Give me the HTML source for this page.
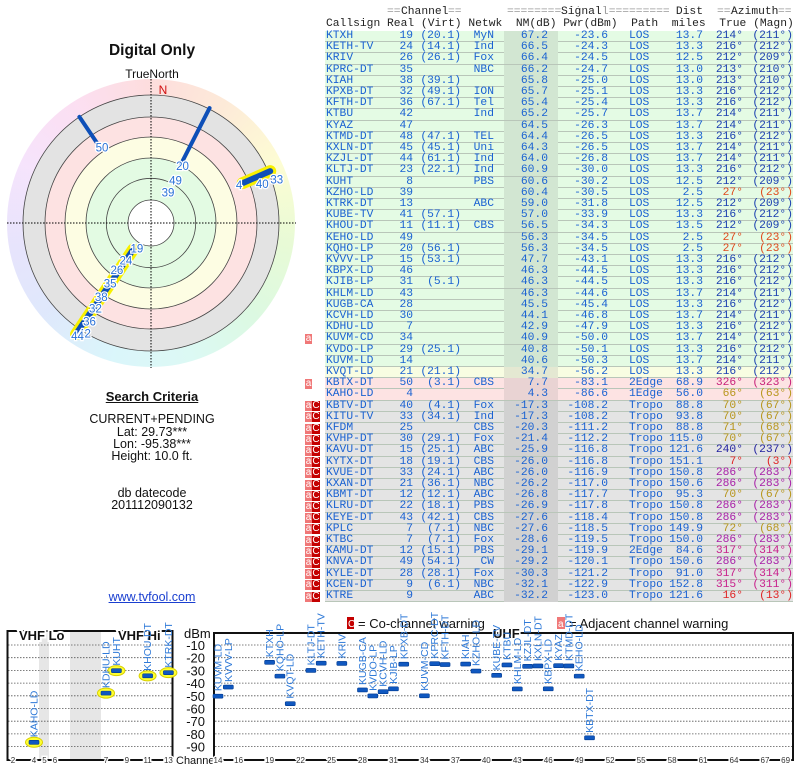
<!DOCTYPE html>
<html><head><meta charset="utf-8">
<style>
html,body{margin:0;padding:0;background:#fff;}
#page{position:relative;width:800px;height:768px;overflow:hidden;font-family:"Liberation Sans",sans-serif;}
.abs{position:absolute;white-space:pre;}
.mono{font-family:"Liberation Mono",monospace;font-size:11.3px;line-height:11.2px;}
.ctr{text-align:center;width:300px;left:2px;font-size:12.5px;color:#111;}
#ring{position:absolute;left:7px;top:79px;width:288px;height:288px;border-radius:50%;
background:conic-gradient(hsl(0,90%,93%),hsl(30,90%,92%),hsl(60,90%,91%),hsl(90,80%,91%),hsl(130,70%,92%),hsl(170,70%,92%),hsl(190,80%,92%),hsl(220,80%,93%),hsl(250,80%,94%),hsl(285,80%,94%),hsl(320,80%,93%),hsl(360,90%,93%));}
.row{position:absolute;left:325px;width:468px;height:11.2px;box-sizing:border-box;border-bottom:1px solid #b9c6b9;}
.cell{position:absolute;top:0;white-space:pre;color:#1a62d2;}
.hdr{color:#222;}
.eq{color:#999;}
</style></head>
<body>
<div id="page">

<div class="abs" style="left:0;width:304px;text-align:center;top:42px;font-size:15.5px;font-weight:bold;color:#111;">Digital Only</div>
<div class="abs" style="left:0;width:304px;text-align:center;top:67px;font-size:12px;color:#111;">TrueNorth</div>
<div id="ring"></div>
<svg id="polar" style="position:absolute;left:0;top:0" width="305" height="380"></svg>

<div class="abs" style="left:2px;width:300px;text-align:center;top:389px;font-size:13px;font-weight:bold;text-decoration:underline;color:#111;">Search Criteria</div>
<div class="abs ctr" style="top:412px;">CURRENT+PENDING</div>
<div class="abs ctr" style="top:425px;">Lat: 29.73***</div>
<div class="abs ctr" style="top:437px;">Lon: -95.38***</div>
<div class="abs ctr" style="top:449px;">Height: 10.0 ft.</div>
<div class="abs ctr" style="top:486px;">db datecode</div>
<div class="abs ctr" style="top:498px;">201112090132</div>
<div class="abs ctr" style="top:590px;color:#1a3fd0;text-decoration:underline;">www.tvfool.com</div>

<div id="table"></div>

<svg id="spec" style="position:absolute;left:0;top:0" width="800" height="768"></svg>
</div>

<script>
// ---------- polar data ----------
const polarLineAz = [214, 27, 326, 66.5];
const polarLineR0 = [32, 65, 97, 100];
const polarLineR1 = [134, 129, 128, 130];
const polarLineHi = [true, false, false, true];
const polarLabels = ["19","24","26","35","38","32","36","42","44","39","49","20","50","4","40","33"];
const polarLabelAz = [209,214,216,214,214,213,212,211,213,29,30,29,327,66.6,70.6,71];
const polarLabelR = [29,45,58,73,89,102,116,129,135,35,49,65,90,96,118,133];

// ---------- spectrum data ----------
const stnNames = ["KTXH","KETH-TV","KRIV","KPRC-DT","KIAH","KPXB-DT","KFTH-DT","KTBU","KYAZ","KTMD-DT","KXLN-DT","KZJL-DT","KLTJ-DT","KUHT","KZHO-LD","KTRK-DT","KUBE-TV","KHOU-DT","KEHO-LD","KQHO-LP","KVVV-LP","KBPX-LD","KJIB-LP","KHLM-LD","KUGB-CA","KCVH-LD","KDHU-LD","KUVM-CD","KVDO-LP","KUVM-LD","KVQT-LD","KBTX-DT","KAHO-LD"];
const stnCh = [19,24,26,35,38,32,36,42,47,48,45,44,23,8,39,13,41,11,49,20,15,46,31,43,28,30,7,34,29,14,21,50,4];
const stnPwr = [-23.6,-24.3,-24.5,-24.7,-25.0,-25.1,-25.4,-25.7,-26.3,-26.5,-26.5,-26.8,-30.0,-30.2,-30.5,-31.8,-33.9,-34.3,-34.5,-34.5,-43.1,-44.5,-44.5,-44.6,-45.4,-46.8,-47.9,-50.0,-50.1,-50.3,-56.2,-83.1,-86.6];
const dbmTicks = [-10,-20,-30,-40,-50,-60,-70,-80,-90];
const chTicksLo = [2,4,5,6,7,9,11,13];
const chTicksUhf = [14,16,19,22,25,28,31,34,37,40,43,46,49,52,55,58,61,64,67,69];

// ---------- table data ----------
const tableRows = [
"KTXH|19|(20.1)|MyN|67.2|-23.6|LOS|13.7|214|211|g|",
"KETH-TV|24|(14.1)|Ind|66.5|-24.3|LOS|13.3|216|212|g|",
"KRIV|26|(26.1)|Fox|66.4|-24.5|LOS|12.5|212|209|g|",
"KPRC-DT|35||NBC|66.2|-24.7|LOS|13.0|213|210|g|",
"KIAH|38|(39.1)||65.8|-25.0|LOS|13.0|213|210|g|",
"KPXB-DT|32|(49.1)|ION|65.7|-25.1|LOS|13.3|216|212|g|",
"KFTH-DT|36|(67.1)|Tel|65.4|-25.4|LOS|13.3|216|212|g|",
"KTBU|42||Ind|65.2|-25.7|LOS|13.7|214|211|g|",
"KYAZ|47|||64.5|-26.3|LOS|13.7|214|211|g|",
"KTMD-DT|48|(47.1)|TEL|64.4|-26.5|LOS|13.3|216|212|g|",
"KXLN-DT|45|(45.1)|Uni|64.3|-26.5|LOS|13.7|214|211|g|",
"KZJL-DT|44|(61.1)|Ind|64.0|-26.8|LOS|13.7|214|211|g|",
"KLTJ-DT|23|(22.1)|Ind|60.9|-30.0|LOS|13.3|216|212|g|",
"KUHT|8||PBS|60.6|-30.2|LOS|12.5|212|209|g|",
"KZHO-LD|39|||60.4|-30.5|LOS|2.5|27|23|g|",
"KTRK-DT|13||ABC|59.0|-31.8|LOS|12.5|212|209|g|",
"KUBE-TV|41|(57.1)||57.0|-33.9|LOS|13.3|216|212|g|",
"KHOU-DT|11|(11.1)|CBS|56.5|-34.3|LOS|13.5|212|209|g|",
"KEHO-LD|49|||56.3|-34.5|LOS|2.5|27|23|g|",
"KQHO-LP|20|(56.1)||56.3|-34.5|LOS|2.5|27|23|g|",
"KVVV-LP|15|(53.1)||47.7|-43.1|LOS|13.3|216|212|g|",
"KBPX-LD|46|||46.3|-44.5|LOS|13.3|216|212|g|",
"KJIB-LP|31|(5.1)||46.3|-44.5|LOS|13.3|216|212|g|",
"KHLM-LD|43|||46.3|-44.6|LOS|13.7|214|211|g|",
"KUGB-CA|28|||45.5|-45.4|LOS|13.3|216|212|g|",
"KCVH-LD|30|||44.1|-46.8|LOS|13.7|214|211|g|",
"KDHU-LD|7|||42.9|-47.9|LOS|13.3|216|212|g|",
"KUVM-CD|34|||40.9|-50.0|LOS|13.7|214|211|g|a",
"KVDO-LP|29|(25.1)||40.8|-50.1|LOS|13.3|216|212|g|",
"KUVM-LD|14|||40.6|-50.3|LOS|13.7|214|211|g|",
"KVQT-LD|21|(21.1)||34.7|-56.2|LOS|13.3|216|212|y|",
"KBTX-DT|50|(3.1)|CBS|7.7|-83.1|2Edge|68.9|326|323|p|a",
"KAHO-LD|4|||4.3|-86.6|1Edge|56.0|66|63|p|",
"KBTV-DT|40|(4.1)|Fox|-17.3|-108.2|Tropo|88.8|70|67|x|ac",
"KITU-TV|33|(34.1)|Ind|-17.3|-108.2|Tropo|93.8|70|67|x|ac",
"KFDM|25||CBS|-20.3|-111.2|Tropo|88.8|71|68|x|ac",
"KVHP-DT|30|(29.1)|Fox|-21.4|-112.2|Tropo|115.0|70|67|x|ac",
"KAVU-DT|15|(25.1)|ABC|-25.9|-116.8|Tropo|121.6|240|237|x|ac",
"KYTX-DT|18|(19.1)|CBS|-26.0|-116.8|Tropo|151.1|7|3|x|ac",
"KVUE-DT|33|(24.1)|ABC|-26.0|-116.9|Tropo|150.8|286|283|x|ac",
"KXAN-DT|21|(36.1)|NBC|-26.2|-117.0|Tropo|150.6|286|283|x|ac",
"KBMT-DT|12|(12.1)|ABC|-26.8|-117.7|Tropo|95.3|70|67|x|ac",
"KLRU-DT|22|(18.1)|PBS|-26.9|-117.8|Tropo|150.8|286|283|x|ac",
"KEYE-DT|43|(42.1)|CBS|-27.6|-118.4|Tropo|150.8|286|283|x|ac",
"KPLC|7|(7.1)|NBC|-27.6|-118.5|Tropo|149.9|72|68|x|ac",
"KTBC|7|(7.1)|Fox|-28.6|-119.5|Tropo|150.0|286|283|x|ac",
"KAMU-DT|12|(15.1)|PBS|-29.1|-119.9|2Edge|84.6|317|314|x|ac",
"KNVA-DT|49|(54.1)|CW|-29.2|-120.1|Tropo|150.6|286|283|x|ac",
"KYLE-DT|28|(28.1)|Fox|-30.3|-121.2|Tropo|91.0|317|314|x|ac",
"KCEN-DT|9|(6.1)|NBC|-32.1|-122.9|Tropo|152.8|315|311|x|ac",
"KTRE|9||ABC|-32.2|-123.0|Tropo|121.6|16|13|x|ac"
];

const NS = "http://www.w3.org/2000/svg";
function mk(parent, tag, attrs){ const e=document.createElementNS(NS,tag); for(const k in attrs) e.setAttribute(k,attrs[k]); parent.appendChild(e); return e; }

// ---------- polar ----------
(function(){
  const svg=document.getElementById('polar');
  const cx=151, cy=223;
  const bands=[[128,"#e3e3e3"],[106,"#fde2e2"],[86,"#fdfde3"],[65,"#e3fbe3"],[23,"#ffffff"]];
  bands.forEach(b=>{ const c=mk(svg,'circle',{cx:cx,cy:cy,r:b[0],fill:b[1],stroke:"#444","stroke-width":0.8});
    
     });
  const c2=mk(svg,'circle',{cx:cx,cy:cy,r:44.7,fill:"none",stroke:"#444","stroke-width":0.8});
  
  
  const h=mk(svg,'line',{x1:7,y1:cy,x2:296,y2:cy,stroke:"#000","stroke-dasharray":"1.5,1.5","stroke-width":1});
  
  
  const v=mk(svg,'line',{x1:cx,y1:79,x2:cx,y2:368,stroke:"#000","stroke-dasharray":"1.5,1.5","stroke-width":1});
  
  
  const n=mk(svg,'text',{x:163,y:94,fill:"#d01010","font-size":12,"text-anchor":"middle","font-family":"Liberation Sans"});
  n.textContent="N";
  
  
  function pt(az,r){ const a=az*Math.PI/180; return [cx+Math.sin(a)*r, cy-Math.cos(a)*r]; }
  for(let i=0;i<polarLineAz.length;i++){
    const p0=pt(polarLineAz[i],polarLineR0[i]), p1=pt(polarLineAz[i],polarLineR1[i]);
    if(polarLineHi[i]){
      const y=mk(svg,'line',{x1:p0[0],y1:p0[1],x2:p1[0],y2:p1[1],stroke:"#f8f000","stroke-width":12,"stroke-linecap":"round"});
      
      
    }
    const l=mk(svg,'line',{x1:p0[0],y1:p0[1],x2:p1[0],y2:p1[1],stroke:"#0d4fb8","stroke-width":polarLineHi[i]?6:4,"stroke-linecap":"round"});
    
    
  }
  for(let i=0;i<polarLabels.length;i++){
    const p=pt(polarLabelAz[i],polarLabelR[i]);
    const t=mk(svg,'text',{x:p[0],y:p[1]+4,fill:"#2a72d8","font-size":11.5,"text-anchor":"middle","font-family":"Liberation Sans",stroke:"#fff","stroke-width":2.5,"paint-order":"stroke"});
    t.textContent=polarLabels[i];
    
    
  }
})();

// ---------- table ----------
(function(){
  const tb=document.getElementById('table');
  function div(cls,style,text){ const d=document.createElement('div'); d.className=cls; d.setAttribute('style',style); d.textContent=text; tb.appendChild(d); return d; }
  let d;
  d=div('abs mono eq','left:387px;top:7px;','==Channel==');  
  d=div('abs mono eq','left:507px;top:7px;','=========Signal=========');  
  d=div('abs mono hdr','left:666px;top:7px;width:37px;text-align:right;','Dist');  
  d=div('abs mono eq','left:717px;top:7px;','==Azimuth==');  
  d=div('abs mono hdr','left:326px;top:19px;','Callsign Real (Virt) Netwk  NM(dB) Pwr(dBm)  Path  miles  True (Magn)');  
  [['Channel',401],['Signal',561],['Azimuth',731]].forEach(w=>{ const e=div('abs mono hdr','left:'+w[1]+'px;top:7px;background:#fff;',w[0]);   });
  const bg={g:["#e4fbe4","#d2e6d2"],y:["#f8fde2","#e4e8d2"],p:["#fde3e3","#e9d3d3"],x:["#e4e4e4","#d1d1d1"]};
  function azColor(a){ a=+a;
    if(a>=205&&a<=220) return "#1a3fb0";
    if(a===27) return "#e04a1c"; if(a===326) return "#c8207a";
    if(a>=60&&a<=75) return "#b8961c"; if(a===240) return "#2222a0";
    if(a===7||a===16) return "#e02424"; if(a===286) return "#a820a8";
    return "#c8208c"; }
  tableRows.forEach((s,i)=>{
    const f=s.split('|'); const top=31+i*11.2;
    const r=document.createElement('div'); r.className='row mono';
    r.style.top=top+'px'; r.style.background=bg[f[10]][0];
    
    
    const nm=document.createElement('div'); nm.setAttribute('style','position:absolute;left:179px;width:54px;top:0;height:11px;background:'+bg[f[10]][1]+';');
    
    
    r.appendChild(nm);
    const ac=azColor(f[8]);
    const cells=[[f[0],'left:1px','callsign'],[f[1],'right:380px','real-channel'],[f[2],'right:332px','virtual-channel'],[f[3],'right:299px','network'],[f[4],'right:245px','noise-margin'],[f[5],'right:185px','signal-power'],[f[6],'left:304px','path-type'],[f[7],'right:90px','distance'],[f[8]+'°','right:50px','azimuth-true'],['('+f[9]+'°)','right:0px','azimuth-magnetic']];
    cells.forEach((c,j)=>{ const e=document.createElement('div'); e.className='cell'; e.setAttribute('style',c[1]+(j>=8?';color:'+ac:'')); e.textContent=c[0];
      
      
      r.appendChild(e); });
    tb.appendChild(r);
    if(f[11]){
      const a=document.createElement('div'); a.className='abs';
      a.setAttribute('style','left:305px;top:'+(top+0.5)+'px;width:7px;height:10px;background:#f07878;color:#fff;font-size:10px;line-height:9px;text-align:center;');
      a.textContent='a';
      
      
      tb.appendChild(a);
      if(f[11]==='ac'){
        const c=document.createElement('div'); c.className='abs';
        c.setAttribute('style','left:312px;top:'+(top+0.5)+'px;width:8px;height:10px;background:#c40000;color:#fff;font-size:10px;line-height:10px;text-align:center;');
        c.textContent='C';
        
        
        tb.appendChild(c);
      }
    }
  });
})();

// ---------- spectrum ----------
(function(){
  const svg=document.getElementById('spec');
  function xCh(ch){ if(ch<=6) return 13+(ch-2)*10.5; if(ch<=13) return 106+(ch-7)*10.4; return 218+(ch-14)*10.32; }
  function yP(p){ return 632.3 - p*1.27; }
  [[39,10],[70,31]].forEach(b=>{ const r=mk(svg,'rect',{x:b[0],y:632,width:b[1],height:127,fill:"#e6e6e6"});
    
     });
  dbmTicks.forEach(t=>{
    const y=yP(t);
    const g1=mk(svg,'line',{x1:8,y1:y,x2:172,y2:y,stroke:"#555","stroke-dasharray":"1.5,1.5","stroke-width":0.8});
    
    
    const g2=mk(svg,'line',{x1:215,y1:y,x2:792,y2:y,stroke:"#555","stroke-dasharray":"1.5,1.5","stroke-width":0.8});
    
    
    const tl=mk(svg,'text',{x:205,y:y+5,"text-anchor":"end","font-size":13,fill:"#111","font-family":"Liberation Sans"});
    tl.textContent=String(t);
    
    
  });
  const boxL=mk(svg,'rect',{x:7.5,y:631,width:165,height:129,fill:"none",stroke:"#111","stroke-width":2});
  
  
  const boxR=mk(svg,'rect',{x:214,y:633,width:579,height:127,fill:"none",stroke:"#111","stroke-width":2});
  
  
  const T=(x,y,s,opt,name)=>{ const t=mk(svg,'text',Object.assign({x:x,y:y,"font-family":"Liberation Sans",fill:"#111"},opt)); t.textContent=s;
    
     return t; };
  T(19,640,"VHF Lo",{"font-size":13,"font-weight":"bold",stroke:"#fff","stroke-width":4,"paint-order":"stroke"},'vhf-lo-label');
  T(118,640,"VHF Hi",{"font-size":13,"font-weight":"bold",stroke:"#fff","stroke-width":4,"paint-order":"stroke"},'vhf-hi-label');
  T(493,638,"UHF",{"font-size":13,"font-weight":"bold",stroke:"#fff","stroke-width":3,"paint-order":"stroke"},'uhf-label');
  T(184,638,"dBm",{"font-size":13},'y-axis-title');
  T(176,764,"Channel",{"font-size":11},'x-axis-title');
  chTicksLo.concat(chTicksUhf).forEach(c=>{
    T(xCh(c),763,String(c),{"font-size":8,"text-anchor":"middle",fill:"#333",stroke:"#fff","stroke-width":3,"paint-order":"stroke"},'channel-tick-label');
  });
  const lc=mk(svg,'rect',{x:347,y:617,width:7,height:12,fill:"#c40000"});
  
  
  T(348,627,"C",{"font-size":10,fill:"#fff"},'cochannel-legend-glyph');
  T(358,628,"= Co-channel warning",{"font-size":13},'cochannel-legend-text');
  const la=mk(svg,'rect',{x:557,y:617,width:8,height:12,fill:"#f07878"});
  
  
  T(558,627,"a",{"font-size":10,fill:"#fff"},'adjacent-legend-glyph');
  T(569,628,"= Adjacent channel warning",{"font-size":13},'adjacent-legend-text');
  for(let i=0;i<stnNames.length;i++){
    const x=xCh(stnCh[i]), y=yP(stnPwr[i]);
    if(stnCh[i]<14){
      const e=mk(svg,'ellipse',{cx:x,cy:y,rx:8.5,ry:5,fill:"#ffff30",stroke:"#d8d000","stroke-width":1});
      
      
    }
    const m=mk(svg,'rect',{x:x-5,y:y-2,width:10,height:4,rx:1,fill:"#1058c0",stroke:"#003a90","stroke-width":0.6});
    
    
    const t=mk(svg,'text',{x:0,y:0,transform:"translate("+(x+3.5)+","+(y-5)+") rotate(-90)","font-size":10.5,fill:"#2f7ad8","font-family":"Liberation Sans"});
    t.textContent=stnNames[i];
    
    
  }
})();
</script>
</body></html>
